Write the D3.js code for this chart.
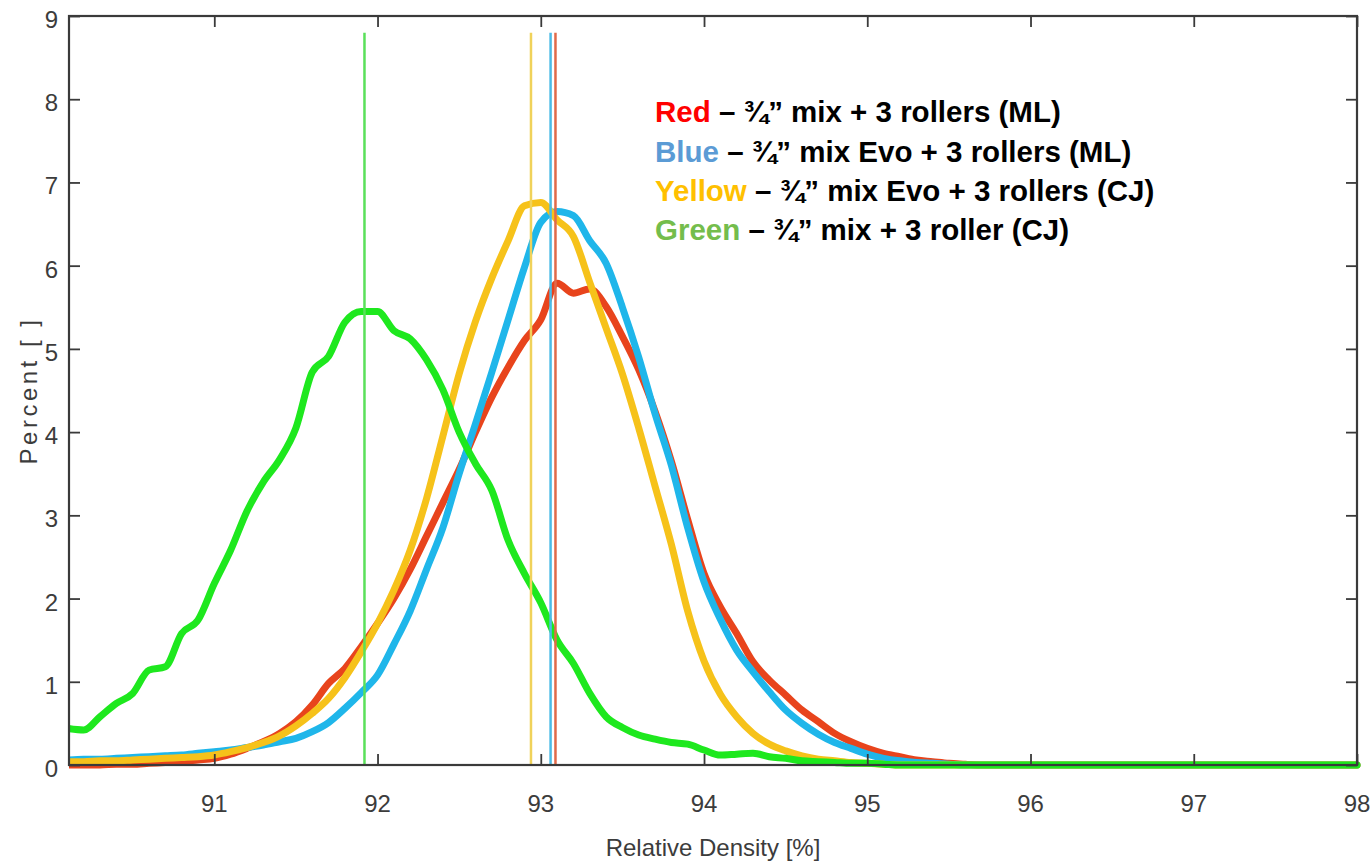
<!DOCTYPE html>
<html>
<head>
<meta charset="utf-8">
<script src="https://cdn.jsdelivr.net/npm/d3@7"></script>
<style>
  html, body { margin: 0; padding: 0; background: #fff; }
  svg { display: block; }
  .tick-label { font-family: "Liberation Sans", Arial, sans-serif; font-size: 24px; fill: #3c3c3c; }
  .legend { font-family: "Liberation Sans", Arial, sans-serif; font-size: 29.5px; font-weight: bold; }
</style>
</head>
<body>
<svg id="chart" width="1370" height="866"></svg>
<script>
// relative density bins (x) and percent per series
const density = [90.1,90.2,90.3,90.4,90.5,90.6,90.7,90.8,90.9,91.0,
  91.1,91.2,91.3,91.4,91.5,91.6,91.7,91.8,91.9,92.0,
  92.1,92.2,92.3,92.4,92.5,92.6,92.7,92.8,92.9,93.0,
  93.1,93.2,93.3,93.4,93.5,93.6,93.7,93.8,93.9,94.0,
  94.1,94.2,94.3,94.4,94.5,94.6,94.7,94.8,94.9,95.0,
  95.1,95.2,95.3,95.4,95.5,95.6,95.7,95.8,95.9,96.0,
  96.1,96.2,96.3,96.4,96.5,96.6,96.7,96.8,96.9,97.0,
  97.1,97.2,97.3,97.4,97.5,97.6,97.7,97.8,97.9,98.0];

const redValues = [0,0,0,0.01,0.01,0.02,0.03,0.04,0.06,0.08,
  0.13,0.20,0.28,0.38,0.52,0.72,0.98,1.16,1.42,1.70,
  2.00,2.35,2.75,3.15,3.55,4.00,4.42,4.78,5.10,5.35,
  5.79,5.67,5.72,5.51,5.15,4.75,4.25,3.65,2.95,2.30,
  1.90,1.58,1.24,1.02,0.84,0.66,0.52,0.38,0.28,0.20,
  0.14,0.10,0.06,0.04,0.02,0.01,0,0,0,0,
  0,0,0,0,0,0,0,0,0,0,
  0,0,0,0,0,0,0,0,0,0];

const blueValues = [0.06,0.07,0.07,0.08,0.09,0.10,0.11,0.12,0.14,0.16,
  0.18,0.21,0.24,0.28,0.32,0.40,0.51,0.68,0.87,1.08,
  1.45,1.85,2.35,2.85,3.50,4.10,4.72,5.35,5.98,6.52,
  6.65,6.60,6.30,6.03,5.50,4.90,4.22,3.60,2.85,2.20,
  1.75,1.38,1.12,0.88,0.66,0.50,0.37,0.27,0.20,0.13,
  0.08,0.05,0.03,0.02,0.01,0,0,0,0,0,
  0,0,0,0,0,0,0,0,0,0,
  0,0,0,0,0,0,0,0,0,0];

const yellowValues = [0.04,0.04,0.05,0.05,0.06,0.07,0.08,0.09,0.10,0.12,
  0.16,0.21,0.27,0.35,0.47,0.62,0.80,1.05,1.36,1.70,
  2.10,2.58,3.20,3.95,4.70,5.33,5.85,6.30,6.72,6.76,
  6.55,6.35,5.80,5.25,4.70,4.05,3.35,2.65,1.85,1.25,
  0.85,0.58,0.38,0.25,0.17,0.11,0.07,0.05,0.03,0.02,
  0.01,0,0,0,0,0,0,0,0,0,
  0,0,0,0,0,0,0,0,0,0,
  0,0,0,0,0,0,0,0,0,0];

const greenValues = [0.44,0.42,0.58,0.74,0.86,1.14,1.18,1.58,1.74,2.18,
  2.58,3.05,3.40,3.67,4.05,4.72,4.91,5.32,5.45,5.45,
  5.22,5.12,4.87,4.51,4.00,3.62,3.30,2.70,2.30,1.95,
  1.50,1.22,0.86,0.58,0.45,0.36,0.31,0.27,0.25,0.18,
  0.12,0.13,0.14,0.10,0.08,0.05,0.04,0.03,0.02,0.02,
  0.01,0,0,0,0,0,0,0,0,0,
  0,0,0,0,0,0,0,0,0,0,
  0,0,0,0,0,0,0,0,0,0];

// mean lines
const meanValues = [93.09, 93.06, 92.94, 91.92];
const meanTop = 8.8;

const seriesNames = ["Red", "Blue", "Yellow", "Green"];
const curveColors = ["#e8441c", "#1fb6ea", "#f6c21a", "#1ee81e"];
const meanColors = ["#e06a4a", "#4cbbe6", "#f0d25a", "#5ae05a"];
const labelColors = ["#ff0000", "#5b9bd5", "#ffc000", "#74bd4c"];
const legendTexts = [
  " \u2013 \u00be\u201d mix + 3 rollers (ML)",
  " \u2013 \u00be\u201d  mix Evo + 3 rollers (ML)",
  " \u2013 \u00be\u201d mix Evo + 3 rollers (CJ)",
  " \u2013 \u00be\u201d mix + 3 roller (CJ)"
];

const xTicks = [91, 92, 93, 94, 95, 96, 97, 98];
const yTicks = [0, 1, 2, 3, 4, 5, 6, 7, 8, 9];

const plotLeft = 69, plotRight = 1357, plotTop = 16, plotBottom = 765;
const svg = d3.select("#chart");

const x = d3.scaleLinear().domain([90.11, 98]).range([plotLeft, plotRight]);
const y = d3.scaleLinear().domain([0, 9]).range([plotBottom, plotTop]);

// clip curves to the plot box
svg.append("defs").append("clipPath").attr("id", "plotClip")
  .append("rect")
  .attr("x", plotLeft).attr("y", plotTop - 5)
  .attr("width", plotRight - plotLeft + 4).attr("height", plotBottom - plotTop + 10);

const allSeries = [redValues, blueValues, yellowValues, greenValues];

const line = d3.line()
  .curve(d3.curveMonotoneX)
  .x((d, i) => x(density[i]))
  .y(d => y(d));

const plot = svg.append("g").attr("clip-path", "url(#plotClip)");

allSeries.forEach((vals, k) => {
  plot.append("path")
    .datum(vals)
    .attr("fill", "none")
    .attr("stroke", curveColors[k])
    .attr("stroke-width", 7)
    .attr("stroke-linejoin", "round")
    .attr("stroke-linecap", "round")
    .attr("d", line);
});

plot.selectAll(".mean")
  .data(meanValues)
  .enter().append("line")
  .attr("class", "mean")
  .attr("x1", d => x(d)).attr("x2", d => x(d))
  .attr("y1", y(0)).attr("y2", y(meanTop))
  .attr("stroke", (d, i) => meanColors[i])
  .attr("stroke-width", 2.5);

// axes, ticks pointing inward on all four sides
const axisColor = "#3a3a3a";
const tickLen = 11;

const xAxisBottom = d3.axisBottom(x).tickValues(xTicks).tickSize(-tickLen).tickFormat("");
const xAxisTop = d3.axisTop(x).tickValues(xTicks).tickSize(-tickLen).tickFormat("");
const yAxisLeft = d3.axisLeft(y).tickValues(yTicks).tickSize(-tickLen).tickFormat("");
const yAxisRight = d3.axisRight(y).tickValues(yTicks).tickSize(-tickLen).tickFormat("");

function styleAxis(g) {
  g.select(".domain").remove();
  g.selectAll(".tick line").attr("stroke", axisColor).attr("stroke-width", 1.8);
}

svg.append("g").attr("transform", `translate(0,${plotBottom})`).call(xAxisBottom).call(styleAxis);
svg.append("g").attr("transform", `translate(0,${plotTop})`).call(xAxisTop).call(styleAxis);
svg.append("g").attr("transform", `translate(${plotLeft},0)`).call(yAxisLeft).call(styleAxis);
svg.append("g").attr("transform", `translate(${plotRight},0)`).call(yAxisRight).call(styleAxis);

svg.append("rect")
  .attr("x", plotLeft).attr("y", plotTop)
  .attr("width", plotRight - plotLeft).attr("height", plotBottom - plotTop)
  .attr("fill", "none")
  .attr("stroke", axisColor)
  .attr("stroke-width", 2.2);

// tick labels
svg.selectAll(".xlab")
  .data(xTicks)
  .enter().append("text")
  .attr("class", "tick-label")
  .attr("x", d => x(d))
  .attr("y", 812)
  .attr("text-anchor", "middle")
  .text(d => d);

svg.selectAll(".ylab")
  .data(yTicks)
  .enter().append("text")
  .attr("class", "tick-label")
  .attr("x", 58)
  .attr("y", d => y(d) + 12)
  .attr("text-anchor", "end")
  .text(d => d);

// axis titles
svg.append("text")
  .attr("class", "tick-label")
  .attr("x", (plotLeft + plotRight) / 2)
  .attr("y", 856)
  .attr("text-anchor", "middle")
  .text("Relative Density [%]");

svg.append("text")
  .attr("class", "tick-label")
  .attr("transform", `translate(37,${(plotTop + plotBottom) / 2}) rotate(-90)`)
  .attr("text-anchor", "middle")
  .style("letter-spacing", "3.5px")
  .text("Percent [ ]");

// legend
const legendY = [122, 162, 201, 240];
seriesNames.forEach((name, i) => {
  const t = svg.append("text")
    .attr("class", "legend")
    .attr("x", 655)
    .attr("y", legendY[i]);
  t.append("tspan").attr("fill", labelColors[i]).text(name);
  t.append("tspan").attr("fill", "#000").text(legendTexts[i]);
});
</script>
</body>
</html>
